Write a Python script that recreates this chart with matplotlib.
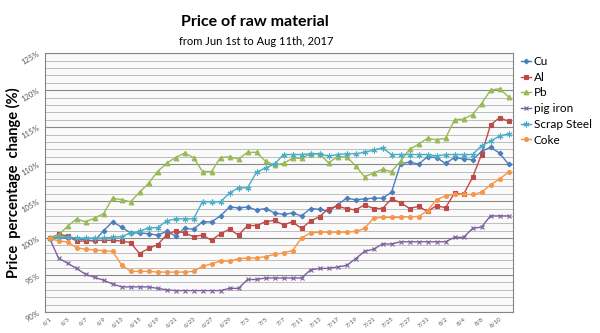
import matplotlib
matplotlib.use('Agg')
import matplotlib.pyplot as plt
from matplotlib.ticker import FixedLocator

plt.rcParams['font.family'] = ['Lato', 'DejaVu Sans']

# trading days, Jun 1st to Aug 11th 2017 (labels shown every 2nd day)
days = ['6/1', '6/2', '6/5', '6/6', '6/7', '6/8', '6/9', '6/12', '6/13', '6/14',
        '6/15', '6/16', '6/19', '6/20', '6/21', '6/22', '6/23', '6/26', '6/27', '6/28',
        '6/29', '6/30', '7/3', '7/4', '7/5', '7/6', '7/7', '7/10', '7/11', '7/12',
        '7/13', '7/14', '7/17', '7/18', '7/19', '7/20', '7/21', '7/24', '7/25', '7/26',
        '7/27', '7/28', '7/31', '8/1', '8/2', '8/3', '8/4', '8/7', '8/8', '8/9',
        '8/10', '8/11']

cu = [100.0, 100.1, 100.0, 99.9, 99.8, 99.6, 101.0, 102.2, 101.5, 100.7,
      100.7, 100.6, 100.4, 100.9, 100.3, 101.3, 101.2, 102.2, 102.2, 103.0,
      104.2, 104.1, 104.2, 103.8, 104.0, 103.4, 103.2, 103.4, 103.0, 104.0,
      103.9, 103.6, 104.5, 105.4, 105.2, 105.3, 105.4, 105.4, 106.2, 110.0,
      110.3, 110.0, 111.0, 110.9, 110.1, 110.9, 110.7, 110.6, 111.7, 112.3,
      111.5, 110.0]
al = [100.0, 100.5, 100.3, 99.6, 99.6, 99.7, 99.7, 99.7, 99.6, 99.4,
      97.9, 98.6, 99.1, 100.4, 101.0, 100.7, 100.2, 100.4, 99.7, 100.6,
      101.2, 100.4, 101.7, 101.7, 102.2, 102.4, 101.8, 102.2, 101.3, 102.3,
      102.9, 104.0, 104.3, 104.0, 103.8, 104.5, 104.0, 104.0, 105.3, 104.8,
      104.0, 104.3, 103.6, 104.4, 104.1, 106.1, 105.9, 108.2, 111.3, 115.3,
      116.3, 115.8]
pb = [100.0, 100.4, 101.6, 102.6, 102.2, 102.7, 103.3, 105.4, 105.2, 104.9,
      106.2, 107.4, 109.0, 110.1, 110.9, 111.5, 110.9, 109.0, 109.0, 110.9,
      111.0, 110.7, 111.6, 111.6, 110.4, 109.9, 110.1, 110.8, 110.8, 111.4,
      111.4, 110.2, 111.0, 111.0, 109.8, 108.3, 108.8, 109.3, 109.0, 110.4,
      112.0, 112.7, 113.5, 113.3, 113.5, 116.0, 116.1, 116.7, 118.2, 120.0,
      120.2, 119.1]
pig_iron = [100.0, 97.3, 96.6, 95.9, 95.1, 94.7, 94.3, 93.8, 93.4, 93.4,
            93.4, 93.4, 93.2, 93.0, 92.9, 92.9, 92.9, 92.9, 92.9, 92.9,
            93.2, 93.2, 94.4, 94.4, 94.6, 94.6, 94.6, 94.6, 94.6, 95.7,
            95.9, 95.9, 96.1, 96.3, 97.2, 98.2, 98.5, 99.2, 99.2, 99.5,
            99.5, 99.5, 99.5, 99.5, 99.5, 100.1, 100.1, 101.3, 101.5, 103.0,
            103.0, 103.0]
scrap_steel = [100.0, 100.1, 100.2, 100.0, 100.0, 100.0, 100.0, 100.1, 100.2, 100.7,
               100.9, 101.4, 101.4, 102.3, 102.6, 102.6, 102.6, 104.9, 104.9, 104.9,
               106.1, 106.8, 106.8, 108.9, 109.5, 110.0, 111.3, 111.3, 111.3, 111.4,
               111.4, 111.1, 111.3, 111.4, 111.4, 111.6, 111.9, 112.2, 111.3, 111.3,
               111.3, 111.3, 111.3, 111.1, 111.3, 111.3, 111.3, 111.3, 112.5, 113.1,
               113.8, 114.1]
coke = [100.0, 99.6, 99.5, 98.7, 98.5, 98.4, 98.3, 98.2, 96.4, 95.5,
        95.5, 95.5, 95.4, 95.4, 95.4, 95.4, 95.5, 96.2, 96.5, 96.9,
        96.9, 97.2, 97.3, 97.3, 97.5, 97.8, 98.0, 98.3, 100.0, 100.7,
        100.8, 100.8, 100.8, 100.8, 100.9, 101.3, 102.7, 102.8, 102.8, 102.8,
        102.9, 102.9, 103.7, 105.2, 105.7, 105.9, 105.9, 105.9, 106.2, 107.2,
        108.0, 108.9]

y_major = list(range(90, 126, 5))
y_minor = list(range(90, 126, 1))

series = [('Cu', cu, '#4A7EBB', 'D', 2.4),
          ('Al', al, '#BE4B48', 's', 3.0),
          ('Pb', pb, '#98B954', '^', 3.4),
          ('pig iron', pig_iron, '#7D60A0', 'x', 3.4),
          ('Scrap Steel', scrap_steel, '#4BACC6', (6, 2, 0), 4.2),
          ('Coke', coke, '#F79646', 'o', 2.8)]

fig = plt.figure(figsize=(6.0, 3.33), dpi=100)
ax = fig.add_axes([0.075, 0.063, 0.78, 0.777])
ax.set_facecolor('#fafafa')

x = list(range(len(days)))
for name, vals, col, mk, ms in series:
    ax.plot(x, vals, color=col, lw=1.0, marker=mk, markersize=ms,
            markeredgewidth=0.8, label=name)

ax.set_xlim(-0.5, len(days) - 0.5)
ax.set_ylim(90, 125)
ax.yaxis.set_major_locator(FixedLocator(y_major))
ax.yaxis.set_minor_locator(FixedLocator(y_minor))
ax.set_yticklabels(['%d%%' % v for v in y_major])
ax.grid(which='major', axis='y', color='#8a8a8a', lw=0.8)
ax.grid(which='minor', axis='y', color='#b4b4b4', lw=0.6)
ax.set_axisbelow(True)

ax.xaxis.set_major_locator(FixedLocator(x[::2]))
ax.set_xticklabels(days[::2])
ax.tick_params(axis='x', length=0, labelsize=4.5, labelcolor='#595959', pad=3)
for lbl in ax.get_xticklabels():
    lbl.set_rotation(40)
    lbl.set_ha('right')
    lbl.set_rotation_mode('anchor')
ax.tick_params(axis='y', which='both', length=0, labelsize=5.5, labelcolor='#595959', pad=3)
for lbl in ax.get_yticklabels():
    lbl.set_rotation(30)

for s in ax.spines.values():
    s.set_color('#868686')
    s.set_linewidth(0.8)

fig.text(0.022, 0.45, 'Price  percentage  change (%)', rotation=90, ha='center', va='center',
         fontsize=10.5, fontweight='bold')

fig.text(0.425, 0.935, 'Price of raw material', ha='center', va='center',
         fontsize=11.5, fontweight='bold')
fig.text(0.427, 0.874, 'from Jun 1st to Aug 11th, 2017', ha='center', va='center', fontsize=8)

ax.legend(loc='upper left', bbox_to_anchor=(0.868, 0.832), bbox_transform=fig.transFigure,
          frameon=False, fontsize=8.5, handlelength=0.9, handletextpad=0.2,
          labelspacing=0.4, borderpad=0, borderaxespad=0, markerscale=1.0)

plt.savefig('out.png', dpi=100)
